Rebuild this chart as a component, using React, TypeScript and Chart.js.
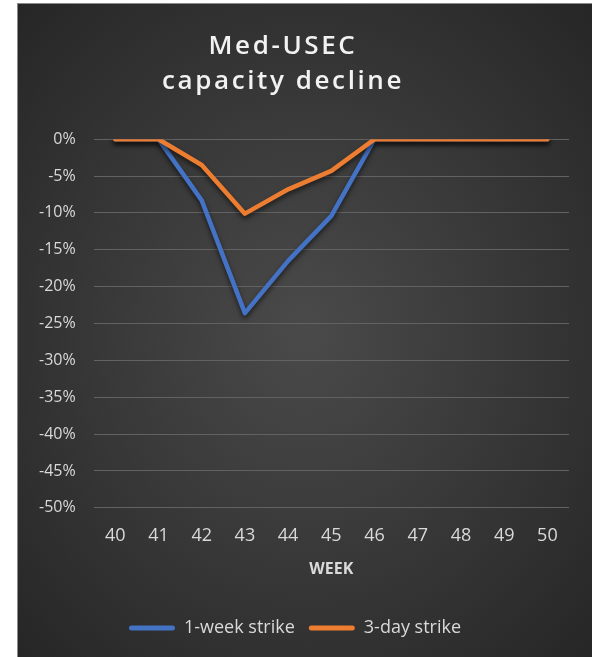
import React, { useEffect, useRef } from "react";
import { Chart, registerables } from "chart.js";

Chart.register(...registerables);

const titleLines = ["Med-USEC", "capacity decline"];
const xAxisTitle = "WEEK";
const weeks = ["40", "41", "42", "43", "44", "45", "46", "47", "48", "49", "50"];
const oneWeekLabel = "1-week strike";
const oneWeekStrike = [0, 0, -0.083, -0.236, -0.165, -0.104, 0, 0, 0, 0, 0];
const threeDayLabel = "3-day strike";
const threeDayStrike = [0, 0, -0.035, -0.101, -0.068, -0.043, 0, 0, 0, 0, 0];
const yMin = -0.5;
const yMax = 0;
const yStep = 0.05;

const BLUE = "#4472C4";
const ORANGE = "#ED7D31";
const TEXT = "#d9d9d9";
const FONT = "'Open Sans', 'DejaVu Sans', sans-serif";

const shadowPlugin = {
  id: "lineShadow",
  beforeDatasetDraw(chart: any) {
    const ctx = chart.ctx;
    ctx.save();
    ctx.shadowColor = "rgba(0,0,0,0.6)";
    ctx.shadowBlur = 5;
    ctx.shadowOffsetY = 3;
  },
  afterDatasetDraw(chart: any) {
    chart.ctx.restore();
  },
};

const titleStylePlugin = {
  id: "titleStyle",
  beforeDraw(chart: any) {
    const tb = chart.titleBlock;
    if (tb && !tb.__wrapped) {
      const orig = tb.draw.bind(tb);
      tb.draw = (...args: any[]) => {
        const ctx = chart.ctx;
        ctx.save();
        try {
          (ctx as any).letterSpacing = "2.6px";
        } catch (e) {}
        ctx.translate(-12, 1);
        orig(...args);
        ctx.restore();
      };
      tb.__wrapped = true;
    }
  },
};

export default function App() {
  const ref = useRef<HTMLCanvasElement | null>(null);

  useEffect(() => {
    if (!ref.current) return;
    const chart = new Chart(ref.current, {
      type: "line",
      data: {
        labels: weeks,
        datasets: [
          {
            label: oneWeekLabel,
            data: oneWeekStrike,
            borderColor: BLUE,
            backgroundColor: BLUE,
            borderWidth: 4.5,
            pointRadius: 0,
            pointHoverRadius: 0,
            tension: 0,
            borderCapStyle: "round",
            borderJoinStyle: "round",
            order: 1,
          },
          {
            label: threeDayLabel,
            data: threeDayStrike,
            borderColor: ORANGE,
            backgroundColor: ORANGE,
            borderWidth: 4.5,
            pointRadius: 0,
            pointHoverRadius: 0,
            tension: 0,
            borderCapStyle: "round",
            borderJoinStyle: "round",
            order: 0,
          },
        ],
      },
      options: {
        animation: false,
        responsive: true,
        maintainAspectRatio: false,
        layout: { padding: { left: 3, right: 23, top: 0, bottom: 10 } },
        plugins: {
          title: {
            display: true,
            text: titleLines,
            color: "#f2f2f2",
            font: { family: FONT, size: 26, weight: "600", lineHeight: 1.35 },
            padding: { top: 24, bottom: 41 },
          },
          legend: {
            display: true,
            position: "bottom",
            labels: {
              color: TEXT,
              font: { family: FONT, size: 18 },
              boxWidth: 46,
              boxHeight: 5,
              padding: 14,
              useBorderRadius: true,
              borderRadius: 2.5,
              sort: (a: any, b: any) => a.datasetIndex - b.datasetIndex,
              generateLabels(chart: any) {
                const items = Chart.defaults.plugins.legend.labels.generateLabels(chart);
                return items.map((it: any) => ({ ...it, lineWidth: 0, fillStyle: it.strokeStyle }));
              },
            },
          },
          tooltip: { enabled: false },
        },
        scales: {
          x: {
            type: "category",
            offset: true,
            grid: { display: false, drawTicks: false },
            border: { display: false },
            ticks: { color: TEXT, font: { family: FONT, size: 18, lineHeight: 1.0 }, padding: 19 },
            title: {
              display: true,
              text: xAxisTitle,
              color: TEXT,
              font: { family: FONT, size: 16, weight: "bold" },
              padding: { top: -4, bottom: 26 },
            },
          },
          y: {
            min: yMin,
            max: yMax,
            grid: { color: "#626262", lineWidth: 1, drawTicks: false },
            border: { display: false },
            ticks: {
              stepSize: yStep,
              color: TEXT,
              font: { family: FONT, size: 16 },
              padding: 18,
              callback: (v: any) => `${Math.round(Number(v) * 100)}%`,
            },
          },
        },
      },
      plugins: [shadowPlugin, titleStylePlugin],
    });
    return () => chart.destroy();
  }, []);

  return (
    <div
      style={{
        position: "absolute",
        left: 17,
        top: 3,
        width: 574,
        height: 653,
        borderLeft: "1px solid #8a8a8a",
        borderTop: "1px solid #8a8a8a",
        background: "radial-gradient(ellipse at 50% 50%, #4a4a4a 0%, #3a3a3a 45%, #262626 100%)",
      }}
    >
      <div style={{ position: "relative", width: 574, height: 653 }}>
        <canvas ref={ref} />
      </div>
    </div>
  );
}
